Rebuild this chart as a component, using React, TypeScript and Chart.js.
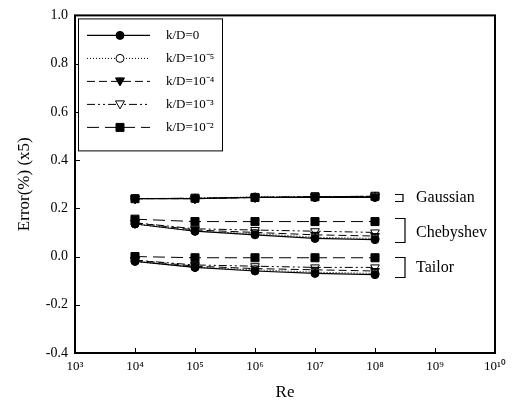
import React, { useEffect, useRef } from "react";
import { Chart, registerables } from "chart.js";

Chart.register(...registerables);

// ---- Data ----
const RE = [1e4, 1e5, 1e6, 1e7, 1e8];
const SERIES_LABELS = ["k/D=0", "k/D=10⁻⁵", "k/D=10⁻⁴", "k/D=10⁻³", "k/D=10⁻²"];
const GROUP_LABELS = ["Gaussian", "Chebyshev", "Tailor"];
const X_TICK_EXPONENTS = [3, 4, 5, 6, 7, 8, 9, 10];
const Y_TICKS = [-0.4, -0.2, 0.0, 0.2, 0.4, 0.6, 0.8, 1.0];

// k/D = 0
const kd0Gaussian = [0.24, 0.24, 0.245, 0.245, 0.245];
const kd0Chebyshev = [0.135, 0.105, 0.09, 0.075, 0.07];
const kd0Tailor = [-0.02, -0.045, -0.06, -0.07, -0.075];
// k/D = 1e-5
const kd5Gaussian = [0.24, 0.242, 0.247, 0.248, 0.25];
const kd5Chebyshev = [0.135, 0.105, 0.095, 0.08, 0.075];
const kd5Tailor = [-0.02, -0.045, -0.055, -0.065, -0.07];
// k/D = 1e-4
const kd4Gaussian = [0.24, 0.24, 0.245, 0.247, 0.248];
const kd4Chebyshev = [0.14, 0.11, 0.1, 0.09, 0.085];
const kd4Tailor = [-0.015, -0.04, -0.05, -0.055, -0.06];
// k/D = 1e-3
const kd3Gaussian = [0.24, 0.241, 0.246, 0.248, 0.25];
const kd3Chebyshev = [0.14, 0.115, 0.11, 0.105, 0.1];
const kd3Tailor = [-0.015, -0.035, -0.04, -0.045, -0.045];
// k/D = 1e-2
const kd2Gaussian = [0.24, 0.242, 0.245, 0.248, 0.25];
const kd2Chebyshev = [0.155, 0.145, 0.145, 0.145, 0.145];
const kd2Tailor = [0.0, -0.005, -0.005, -0.005, -0.005];

const SERIES_VALUES = [
  [kd0Gaussian, kd0Chebyshev, kd0Tailor],
  [kd5Gaussian, kd5Chebyshev, kd5Tailor],
  [kd4Gaussian, kd4Chebyshev, kd4Tailor],
  [kd3Gaussian, kd3Chebyshev, kd3Tailor],
  [kd2Gaussian, kd2Chebyshev, kd2Tailor],
];

// group annotation anchors (label y value, bracket top, bracket bottom)
const GROUP_LABEL_Y = [0.245, 0.1, -0.045];
const GROUP_BRACKET = [
  [0.258, 0.232],
  [0.16, 0.06],
  [0.0, -0.085],
];

// ---- Styles ----
const FONT = "'Liberation Serif', 'Times New Roman', serif";
const STYLES = [
  { dash: [], shape: "circle", fill: true, width: 1.2 },
  { dash: [1, 2], shape: "circle", fill: false, width: 1 },
  { dash: [8, 4], shape: "triangleDown", fill: true, width: 1 },
  { dash: [8, 3, 2, 3, 2, 3], shape: "triangleDown", fill: false, width: 1 },
  { dash: [12, 6], shape: "rect", fill: true, width: 1 },
];

const SUP: Record<string, string> = {
  "0": "⁰", "1": "¹", "2": "²", "3": "³", "4": "⁴",
  "5": "⁵", "6": "⁶", "7": "⁷", "8": "⁸", "9": "⁹",
};
const supStr = (n: number) => String(n).split("").map((c) => SUP[c]).join("");

function drawMarker(ctx: CanvasRenderingContext2D, shape: string, fill: boolean, x: number, y: number) {
  ctx.save();
  ctx.setLineDash([]);
  ctx.lineWidth = 1;
  ctx.strokeStyle = "#000";
  ctx.fillStyle = fill ? "#000" : "#fff";
  ctx.beginPath();
  if (shape === "circle") {
    ctx.arc(x, y, 4, 0, Math.PI * 2);
  } else if (shape === "triangleDown") {
    ctx.moveTo(x - 4.5, y - 3.5);
    ctx.lineTo(x + 4.5, y - 3.5);
    ctx.lineTo(x, y + 4.5);
    ctx.closePath();
  } else {
    ctx.rect(x - 4, y - 4, 8, 8);
  }
  ctx.fill();
  ctx.stroke();
  ctx.restore();
}

const decorPlugin = {
  id: "decor",
  afterDraw(chart: any) {
    const { ctx, chartArea: a, scales } = chart;
    const xs = scales.x;
    const ys = scales.y;
    ctx.save();
    // frame
    ctx.strokeStyle = "#000";
    ctx.lineWidth = 2;
    ctx.setLineDash([]);
    ctx.strokeRect(a.left, a.top, a.right - a.left, a.bottom - a.top);
    // inward ticks
    ctx.lineWidth = 1;
    ctx.beginPath();
    X_TICK_EXPONENTS.forEach((e) => {
      const px = Math.round(xs.getPixelForValue(Math.pow(10, e))) + 0.5;
      ctx.moveTo(px, a.bottom);
      ctx.lineTo(px, a.bottom - 5);
    });
    Y_TICKS.forEach((v) => {
      const py = Math.round(ys.getPixelForValue(v)) + 0.5;
      ctx.moveTo(a.left, py);
      ctx.lineTo(a.left + 5, py);
    });
    ctx.stroke();

    // legend
    const lx = a.left + 3;
    const ly = a.top + 3;
    const lw = 144;
    const lh = 132;
    ctx.fillStyle = "#fff";
    ctx.fillRect(lx, ly, lw, lh);
    ctx.lineWidth = 1;
    ctx.strokeRect(lx + 0.5, ly + 0.5, lw, lh);
    SERIES_LABELS.forEach((lab, i) => {
      const st = STYLES[i];
      const y = ly + 17 + i * 23;
      ctx.save();
      ctx.strokeStyle = "#000";
      ctx.lineWidth = st.width;
      ctx.setLineDash(st.dash);
      ctx.beginPath();
      ctx.moveTo(lx + 9, y);
      ctx.lineTo(lx + 72, y);
      ctx.stroke();
      ctx.restore();
      drawMarker(ctx, st.shape, st.fill, lx + 42, y);
      ctx.fillStyle = "#000";
      ctx.font = `13px ${FONT}`;
      ctx.textAlign = "left";
      ctx.textBaseline = "middle";
      ctx.fillText(lab, lx + 88, y);
    });

    // group labels and brackets
    const bx = xs.getPixelForValue(1e8) + 20;
    GROUP_LABELS.forEach((g, i) => {
      const [t, b] = GROUP_BRACKET[i];
      const yt = Math.round(ys.getPixelForValue(t)) + 0.5;
      const yb = Math.round(ys.getPixelForValue(b)) + 0.5;
      const w = i === 0 ? 8 : 10;
      ctx.strokeStyle = "#000";
      ctx.lineWidth = 1.2;
      ctx.setLineDash([]);
      ctx.beginPath();
      ctx.moveTo(bx, yt);
      ctx.lineTo(bx + w, yt);
      ctx.lineTo(bx + w, yb);
      ctx.lineTo(bx, yb);
      ctx.stroke();
      ctx.fillStyle = "#000";
      ctx.font = `16px ${FONT}`;
      ctx.textAlign = "left";
      ctx.textBaseline = "middle";
      ctx.fillText(g, bx + 21, ys.getPixelForValue(GROUP_LABEL_Y[i]));
    });
    ctx.restore();
  },
};

export default function App() {
  const ref = useRef<HTMLCanvasElement>(null);
  useEffect(() => {
    document.body.style.margin = "0";
    const datasets: any[] = [];
    SERIES_VALUES.forEach((groups, si) => {
      const st = STYLES[si];
      groups.forEach((vals, gi) => {
        datasets.push({
          label: `${SERIES_LABELS[si]} ${GROUP_LABELS[gi]}`,
          data: RE.map((x, i) => ({ x, y: vals[i] })),
          borderColor: "#000",
          borderWidth: st.width,
          borderDash: st.dash,
          backgroundColor: st.fill ? "#000" : "#fff",
          pointBorderColor: "#000",
          pointBackgroundColor: st.fill ? "#000" : "#fff",
          pointBorderWidth: 1,
          pointStyle: st.shape === "triangleDown" ? "triangle" : st.shape,
          pointRotation: st.shape === "triangleDown" ? 180 : 0,
          pointRadius: st.shape === "rect" ? 5.7 : st.shape === "circle" ? 4 : 5,
          tension: 0,
          fill: false,
        });
      });
    });
    const chart = new Chart(ref.current!, {
      type: "line",
      data: { datasets },
      plugins: [decorPlugin],
      options: {
        animation: false,
        responsive: false,
        layout: { padding: { top: 15, right: 21, left: 0, bottom: 0 } },
        plugins: { legend: { display: false }, tooltip: { enabled: false } },
        scales: {
          x: {
            type: "logarithmic",
            min: 1e3,
            max: 1e10,
            afterBuildTicks: (scale: any) => {
              scale.ticks = X_TICK_EXPONENTS.map((e) => ({ value: Math.pow(10, e) }));
            },
            afterFit: (scale: any) => {
              scale.height = 64;
            },
            grid: { display: false, drawTicks: false },
            border: { display: false },
            ticks: {
              autoSkip: false,
              maxRotation: 0,
              padding: 6,
              color: "#000",
              font: { family: FONT, size: 13 },
              callback: (v: any) => "10" + supStr(Math.round(Math.log10(Number(v)))),
            },
            title: {
              display: true,
              text: "Re",
              color: "#000",
              font: { family: FONT, size: 17 },
              padding: { top: 0, bottom: 14 },
            },
          },
          y: {
            min: -0.4,
            max: 1.0,
            afterBuildTicks: (scale: any) => {
              scale.ticks = Y_TICKS.map((v) => ({ value: v }));
            },
            afterFit: (scale: any) => {
              scale.width = 75;
            },
            grid: { display: false, drawTicks: false },
            border: { display: false },
            ticks: {
              padding: 7,
              color: "#000",
              font: { family: FONT, size: 14 },
              callback: (v: any) => (Math.abs(Number(v)) < 1e-9 ? "0.0" : Number(v).toFixed(1)),
            },
            title: {
              display: true,
              text: "Error(%) (x5)",
              color: "#000",
              font: { family: FONT, size: 17 },
              padding: { top: 14, bottom: 0 },
            },
          },
        },
      },
    } as any);
    return () => chart.destroy();
  }, []);
  return <canvas ref={ref} width={516} height={417} style={{ display: "block" }} />;
}
